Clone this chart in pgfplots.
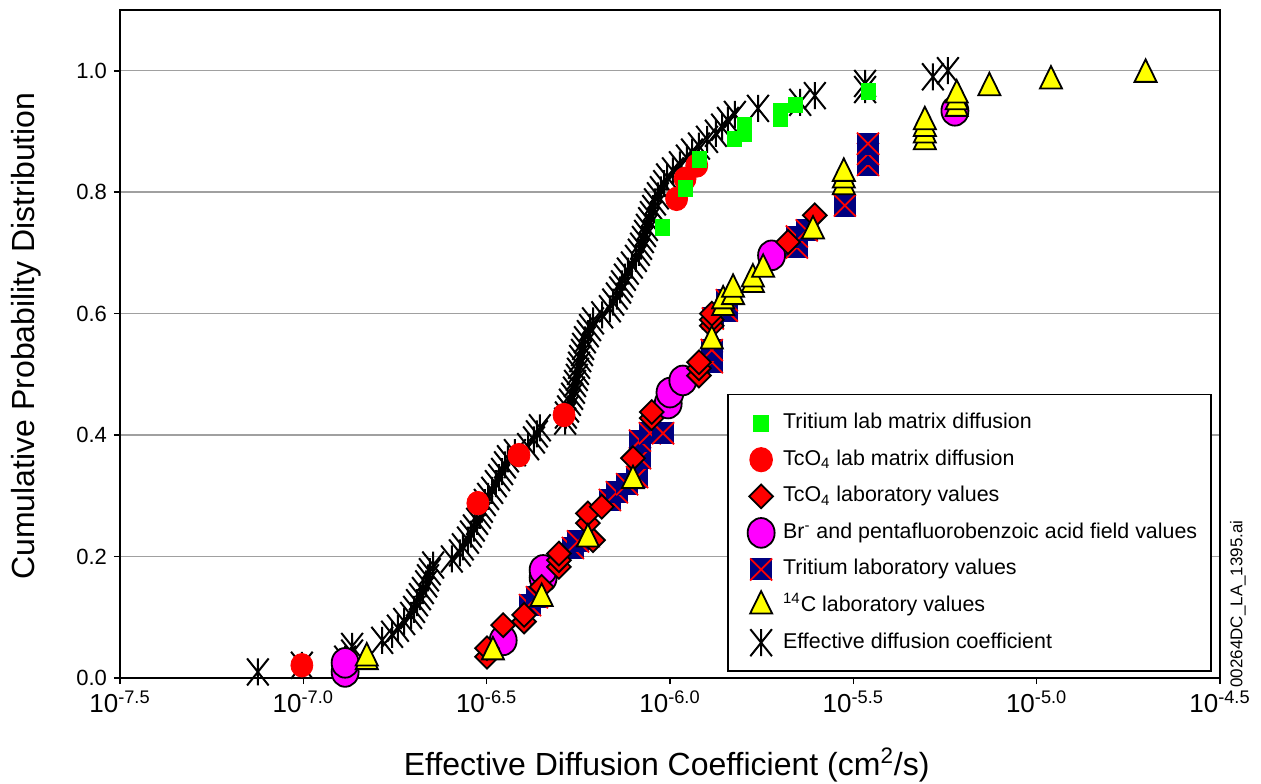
\documentclass[border=0pt]{standalone}
\usepackage{fontspec}
\setmainfont{Liberation Sans}
\usepackage{pgfplots}
\pgfplotsset{compat=1.18}

\definecolor{trgreen}{RGB}{0,255,0}
\definecolor{tcred}{RGB}{255,0,0}
\definecolor{brmag}{RGB}{255,0,255}
\definecolor{trnavy}{RGB}{0,0,128}
\definecolor{cyellow}{RGB}{255,255,0}
\definecolor{gridgray}{RGB}{160,160,160}

% navy square with a red diagonal cross
\pgfdeclareplotmark{crossbox}{%
  \begin{pgfscope}
  \pgfsetfillcolor{trnavy}%
  \pgfpathrectangle{\pgfqpoint{-\pgfplotmarksize}{-\pgfplotmarksize}}{\pgfqpoint{2\pgfplotmarksize}{2\pgfplotmarksize}}%
  \pgfusepathqfill
  \pgfsetstrokecolor{tcred}%
  \pgfsetlinewidth{0.9pt}%
  \pgfpathmoveto{\pgfqpoint{-\pgfplotmarksize}{-\pgfplotmarksize}}%
  \pgfpathlineto{\pgfqpoint{\pgfplotmarksize}{\pgfplotmarksize}}%
  \pgfpathmoveto{\pgfqpoint{-\pgfplotmarksize}{\pgfplotmarksize}}%
  \pgfpathlineto{\pgfqpoint{\pgfplotmarksize}{-\pgfplotmarksize}}%
  \pgfusepathqstroke
  \end{pgfscope}}

% vertical bar plus a steep X
\pgfdeclareplotmark{star3}{%
  \pgfpathmoveto{\pgfqpoint{0pt}{\pgfplotmarksize}}%
  \pgfpathlineto{\pgfqpoint{0pt}{-\pgfplotmarksize}}%
  \pgfpathmoveto{\pgfqpoint{-.8\pgfplotmarksize}{\pgfplotmarksize}}%
  \pgfpathlineto{\pgfqpoint{.8\pgfplotmarksize}{-\pgfplotmarksize}}%
  \pgfpathmoveto{\pgfqpoint{-.8\pgfplotmarksize}{-\pgfplotmarksize}}%
  \pgfpathlineto{\pgfqpoint{.8\pgfplotmarksize}{\pgfplotmarksize}}%
  \pgfusepathqstroke}

\pgfplotsset{
  legmark/.style={legend image code/.code={%
      \path[draw=none,fill=none] (0pt,-4pt) (20.5pt,4pt);
      \draw[overlay,##1] plot coordinates {(9.5pt,0pt)};}},
  sGreen/.style={only marks, mark=square*, mark size=3.5pt,
      mark options={draw=trgreen, fill=trgreen, yscale=1.1}},
  sCirc/.style={only marks, mark=*, mark size=5.5pt,
      mark options={draw=tcred, fill=tcred, yscale=1.07}},
  sDiam/.style={only marks, mark=square*, mark size=4.2pt,
      mark options={rotate=45, draw=black, fill=tcred, line width=0.9pt}},
  sBr/.style={only marks, mark=*, mark size=6.75pt,
      mark options={draw=black, fill=brmag, line width=0.9pt, yscale=1.1}},
  sTri/.style={only marks, mark=crossbox, mark size=5.5pt},
  sC14/.style={only marks, mark=triangle*, mark size=7.5pt,
      mark options={draw=black, fill=cyellow, line width=0.9pt, xscale=0.85}},
  sEff/.style={only marks, mark=star3, mark size=6.75pt,
      mark options={draw=black, line width=1pt}},
}

\begin{document}
\begin{tikzpicture}
\useasboundingbox (-60pt,-52.5pt) rectangle (570.5pt,339pt);
\begin{axis}[
  at={(0pt,0pt)}, anchor=south west,
  scale only axis, width=550pt, height=334pt,
  xmin=-7.5, xmax=-4.5, ymin=0, ymax=1.1,
  clip=false,
  xtick={-7.5,-7,-6.5,-6,-5.5,-5,-4.5},
  xticklabels={10\textsuperscript{-7.5},10\textsuperscript{-7.0},10\textsuperscript{-6.5},10\textsuperscript{-6.0},10\textsuperscript{-5.5},10\textsuperscript{-5.0},10\textsuperscript{-4.5}},
  ytick={0,0.2,0.4,0.6,0.8,1.0},
  yticklabels={0.0,0.2,0.4,0.6,0.8,1.0},
  tick align=outside, xtick pos=left, ytick pos=left,
  major tick length=3pt,
  tick style={black, line width=0.8pt},
  axis line style={black, line width=1.4pt},
  ymajorgrids, major grid style={gridgray, line width=0.7pt},
  xticklabel style={font=\fontsize{13}{15}\selectfont},
  yticklabel style={font=\fontsize{11}{13}\selectfont},
  xlabel={Effective Diffusion Coefficient (cm\textsuperscript{2}/s)},
  ylabel={Cumulative Probability Distribution},
  xlabel style={at={(axis description cs:0.497,-0.13)}, anchor=center, font=\fontsize{16}{19}\selectfont},
  ylabel style={at={(axis description cs:-0.0855,0.512)}, anchor=center, font=\fontsize{16}{19}\selectfont},
  legend cell align=left,
  legend style={at={(rel axis cs:0.9927,0.009)}, anchor=south east,
    draw=black, line width=0.8pt, fill=white,
    inner xsep=7pt, inner ysep=9pt, row sep=7.8pt, column sep=0pt,
    nodes={inner sep=0pt, text height=8pt, text depth=2.5pt},
    font=\fontsize{10.7}{12}\selectfont},
]
% legend entries
\addlegendimage{sGreen, legmark}
\addlegendentry{Tritium lab matrix diffusion}
\addlegendimage{sCirc, legmark}
\addlegendentry{TcO\textsubscript{4} lab matrix diffusion}
\addlegendimage{sDiam, legmark}
\addlegendentry{TcO\textsubscript{4} laboratory values}
\addlegendimage{sBr, legmark}
\addlegendentry{Br\textsuperscript{-} and pentafluorobenzoic acid field values}
\addlegendimage{sTri, legmark}
\addlegendentry{Tritium laboratory values}
\addlegendimage{sC14, legmark}
\addlegendentry{\textsuperscript{14}C laboratory values}
\addlegendimage{sEff, legmark}
\addlegendentry{Effective diffusion coefficient}

% x = log10 of the diffusion coefficient (cm^2/s), y = cumulative probability
% Effective diffusion coefficient
\addplot[sEff, forget plot] table {
x y
-7.124 0.010
-7.004 0.021
-6.886 0.031
-6.867 0.041
-6.867 0.052
-6.785 0.062
-6.758 0.072
-6.742 0.082
-6.725 0.093
-6.706 0.103
-6.698 0.113
-6.690 0.124
-6.682 0.134
-6.674 0.144
-6.665 0.155
-6.660 0.165
-6.655 0.175
-6.646 0.186
-6.595 0.196
-6.573 0.206
-6.565 0.216
-6.551 0.227
-6.543 0.237
-6.535 0.247
-6.526 0.258
-6.518 0.268
-6.513 0.278
-6.505 0.289
-6.496 0.299
-6.485 0.309
-6.475 0.320
-6.466 0.330
-6.458 0.340
-6.450 0.351
-6.442 0.361
-6.423 0.371
-6.387 0.381
-6.371 0.392
-6.363 0.402
-6.355 0.412
-6.286 0.423
-6.284 0.433
-6.278 0.443
-6.273 0.454
-6.267 0.464
-6.262 0.474
-6.259 0.485
-6.254 0.495
-6.251 0.505
-6.248 0.515
-6.245 0.526
-6.240 0.536
-6.237 0.546
-6.232 0.557
-6.224 0.567
-6.218 0.577
-6.210 0.588
-6.185 0.598
-6.164 0.608
-6.155 0.619
-6.145 0.629
-6.136 0.639
-6.131 0.649
-6.123 0.660
-6.115 0.670
-6.104 0.680
-6.093 0.691
-6.085 0.701
-6.079 0.711
-6.074 0.722
-6.068 0.732
-6.063 0.742
-6.057 0.753
-6.052 0.763
-6.046 0.773
-6.041 0.784
-6.033 0.794
-6.025 0.804
-6.016 0.814
-6.008 0.825
-5.992 0.835
-5.973 0.845
-5.954 0.856
-5.940 0.866
-5.921 0.876
-5.899 0.887
-5.875 0.897
-5.858 0.907
-5.842 0.918
-5.823 0.928
-5.760 0.938
-5.645 0.948
-5.605 0.959
-5.468 0.969
-5.468 0.979
-5.283 0.990
-5.242 1.000
};

% Tritium laboratory values
\addplot[sTri, forget plot] table {
x y
-6.382 0.120
-6.363 0.133
-6.265 0.214
-6.251 0.225
-6.164 0.293
-6.145 0.306
-6.117 0.319
-6.090 0.331
-6.082 0.362
-6.082 0.391
-6.055 0.403
-6.019 0.403
-5.886 0.520
-5.886 0.540
-5.883 0.592
-5.845 0.605
-5.845 0.622
-5.654 0.709
-5.654 0.727
-5.627 0.737
-5.523 0.778
-5.460 0.845
-5.460 0.863
-5.460 0.880
};

% Br- and pentafluorobenzoic acid field values
\addplot[sBr, forget plot] table {
x y
-6.886 0.010
-6.886 0.025
-6.455 0.062
-6.346 0.165
-6.346 0.178
-6.005 0.452
-6.000 0.470
-5.965 0.490
-5.723 0.696
-5.223 0.934
};

% TcO4 laboratory values
\addplot[sDiam, forget plot] table {
x y
-6.499 0.035
-6.499 0.049
-6.455 0.087
-6.398 0.093
-6.398 0.104
-6.350 0.150
-6.303 0.183
-6.303 0.194
-6.303 0.205
-6.210 0.227
-6.224 0.255
-6.224 0.271
-6.186 0.282
-6.101 0.362
-6.050 0.428
-6.050 0.438
-5.921 0.498
-5.921 0.510
-5.921 0.520
-5.886 0.580
-5.886 0.590
-5.886 0.600
-5.678 0.718
-5.605 0.762
};

% 14C laboratory values
\addplot[sC14, forget plot] table {
x y
-6.827 0.027
-6.827 0.033
-6.483 0.043
-6.350 0.131
-6.224 0.229
-6.101 0.325
-5.886 0.555
-5.855 0.610
-5.855 0.621
-5.828 0.628
-5.828 0.640
-5.774 0.648
-5.774 0.657
-5.746 0.673
-5.610 0.736
-5.526 0.809
-5.526 0.820
-5.526 0.831
-5.305 0.883
-5.305 0.894
-5.305 0.905
-5.305 0.916
-5.218 0.938
-5.218 0.949
-5.218 0.960
-5.129 0.972
-4.961 0.983
-4.703 0.994
};

% TcO4 lab matrix diffusion
\addplot[sCirc, forget plot] table {
x y
-7.004 0.021
-6.524 0.288
-6.412 0.367
-6.289 0.433
-5.982 0.789
-5.959 0.822
-5.927 0.844
};

% Tritium lab matrix diffusion
\addplot[sGreen, forget plot] table {
x y
-6.022 0.742
-5.959 0.806
-5.921 0.854
-5.825 0.888
-5.798 0.896
-5.798 0.911
-5.700 0.921
-5.700 0.934
-5.659 0.944
-5.460 0.966
};
\end{axis}
\node[rotate=90, font=\fontsize{8.5}{10}\selectfont] at (559pt,37pt) {00264DC\_LA\_1395.ai};
\end{tikzpicture}
\end{document}
